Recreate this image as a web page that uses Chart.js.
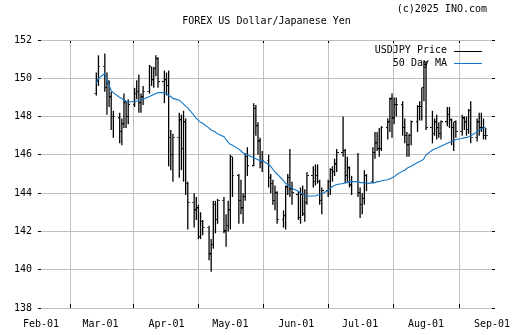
<!DOCTYPE html>
<html>
<head>
<meta charset="utf-8">
<script src="https://cdn.jsdelivr.net/npm/chart.js@4.4.1/dist/chart.umd.min.js"></script>
<style>
  html, body { margin: 0; padding: 0; background: #fff; }
</style>
</head>
<body>
<canvas id="chart" width="512" height="335"></canvas>
<script>
// trading days (2025, MM-DD)
const dates = [
  '02-27','02-28','03-03','03-04','03-05','03-06','03-07','03-10','03-11','03-12','03-13','03-14','03-17','03-18','03-19','03-20','03-21','03-24','03-25','03-26','03-27','03-28','03-31',
  '04-01','04-02','04-03','04-04','04-07','04-08','04-09','04-10','04-11','04-14','04-15','04-16','04-17','04-18','04-21','04-22','04-23','04-24','04-25','04-28','04-29','04-30',
  '05-01','05-02','05-05','05-06','05-07','05-08','05-09','05-12','05-13','05-14','05-15','05-16','05-19','05-20','05-21','05-22','05-23','05-26','05-27','05-28','05-29','05-30',
  '06-02','06-03','06-04','06-05','06-06','06-09','06-10','06-11','06-12','06-13','06-16','06-17','06-18','06-19','06-20','06-23','06-24','06-25','06-26','06-27','06-30',
  '07-01','07-02','07-03','07-04','07-07','07-08','07-09','07-10','07-11','07-14','07-15','07-16','07-17','07-18','07-21','07-22','07-23','07-24','07-25','07-28','07-29','07-30','07-31',
  '08-01','08-04','08-05','08-06','08-07','08-08','08-11','08-12','08-13','08-14','08-15','08-18','08-19','08-20','08-21','08-22','08-25','08-26','08-27','08-28','08-29'
];

const open = [
  149.2,149.8,150.6,149.5,149.7,149.0,148.0,147.9,147.2,147.6,148.7,148.0,148.6,149.2,149.3,148.7,149.0,149.3,150.6,149.9,150.5,151.0,149.8,
  149.9,149.6,146.9,146.0,146.9,147.8,146.3,147.7,144.5,143.5,143.1,143.2,141.7,142.5,142.2,140.8,141.3,143.4,142.6,143.6,142.0,142.3,
  143.1,145.9,144.9,143.6,143.2,143.8,145.9,145.4,148.4,147.5,146.7,145.6,145.7,144.8,144.5,143.6,144.0,142.6,142.8,144.3,144.8,144.2,
  143.9,142.7,143.9,142.9,143.5,144.9,144.6,144.9,144.6,143.6,144.1,144.6,145.2,145.1,145.5,146.1,146.2,144.9,145.3,144.4,144.6,
  144.0,143.4,143.7,144.9,144.6,146.1,146.6,146.3,146.3,147.4,147.7,148.9,147.9,148.6,148.6,147.4,147.0,146.5,147.0,147.7,148.5,148.5,149.5,
  150.7,147.4,147.1,147.7,147.4,147.1,147.7,148.1,147.8,147.4,147.7,147.2,147.9,147.7,147.3,148.3,146.9,147.7,147.4,147.4,147.0
];
const high = [
  150.3,151.2,151.3,150.3,149.9,149.3,148.3,148.2,147.9,149.2,148.8,148.9,149.5,149.9,150.2,149.2,149.6,150.7,150.6,150.6,151.2,151.1,150.4,
  150.3,150.4,147.3,147.1,148.2,148.1,148.3,147.9,144.6,144.0,143.8,143.4,143.0,142.6,142.3,141.6,143.6,143.6,143.7,143.8,142.9,143.6,
  146.0,145.9,145.0,144.7,144.0,146.1,146.4,148.7,148.6,147.7,146.9,146.2,146.0,145.0,144.7,144.4,144.1,143.1,144.4,145.0,146.3,144.6,
  144.1,144.3,144.4,144.2,145.1,145.4,145.5,145.5,144.7,144.3,144.7,145.3,145.4,145.8,146.3,148.0,146.3,145.9,145.4,144.9,146.1,
  144.3,144.0,145.2,145.0,146.4,147.2,147.2,147.4,147.5,147.9,149.0,149.2,149.0,149.0,148.8,147.9,147.2,147.1,147.8,148.6,148.8,149.5,150.9,
  150.9,148.3,147.9,148.1,147.7,147.8,148.5,148.5,147.9,147.7,147.8,148.1,148.0,148.0,148.4,148.8,147.9,148.2,148.2,147.9,147.4
];
const low = [
  149.1,149.6,149.3,148.1,148.5,147.3,146.9,146.6,146.5,147.4,147.4,147.6,148.5,148.9,148.2,148.2,148.6,149.2,149.6,149.5,150.1,149.5,148.7,
  149.1,145.4,145.2,144.6,144.8,145.2,144.6,143.9,142.1,142.2,142.6,141.6,141.6,141.8,140.5,139.9,141.1,141.9,142.4,141.9,141.2,142.0,
  142.1,143.8,142.4,142.9,142.4,143.6,144.9,145.4,147.0,146.0,145.3,145.1,144.3,144.0,143.4,143.1,142.4,142.2,142.1,143.9,143.8,143.4,
  142.6,142.4,142.8,142.5,143.4,144.3,144.4,144.5,143.4,142.9,143.8,143.9,144.6,144.9,145.1,145.9,144.5,144.6,144.3,143.9,143.8,
  142.7,142.9,143.4,144.1,144.5,145.8,146.2,145.9,146.2,146.8,147.2,146.9,147.6,148.0,147.0,146.6,145.9,145.9,146.5,147.2,147.8,147.8,148.8,
  147.3,146.6,147.0,146.8,146.9,146.8,147.5,147.4,146.5,146.2,146.9,147.0,147.3,147.0,147.1,146.6,146.7,147.0,147.2,146.8,146.8
];
const close = [
  149.8,150.6,149.5,149.8,149.0,148.0,148.0,147.2,147.6,148.8,148.0,148.6,149.2,149.3,148.7,149.0,149.3,150.6,149.9,150.5,151.0,149.8,149.9,
  149.6,146.9,146.0,146.9,147.8,146.3,147.7,144.5,143.5,143.1,143.2,141.7,142.5,142.2,140.8,141.3,143.4,142.6,143.6,142.0,142.3,143.1,
  145.9,144.9,143.6,143.2,143.8,145.9,145.4,148.4,147.5,146.7,145.6,145.7,144.8,144.5,143.6,144.0,142.6,142.8,144.3,144.8,144.2,144.0,
  142.7,143.9,142.9,143.5,144.9,144.6,144.9,144.6,143.6,144.1,144.6,145.2,145.1,145.5,146.1,146.2,144.9,145.3,144.4,144.6,144.0,
  143.4,143.7,144.9,144.5,146.1,146.6,146.3,146.3,147.4,147.7,148.9,147.9,148.6,148.6,147.4,147.0,146.5,147.0,147.7,148.5,148.5,149.5,150.7,
  147.4,147.1,147.7,147.4,147.1,147.7,148.1,147.8,147.4,147.7,147.2,147.9,147.7,147.3,148.3,146.9,147.7,147.4,147.4,147.0,147.0
];
const ma50 = [
  149.75,150.0,150.25,149.9,149.65,149.35,149.25,149.0,148.95,148.85,148.8,148.75,148.8,148.8,148.85,148.85,148.9,149.05,149.1,149.15,149.2,149.25,149.25,
  149.2,149.1,149.05,148.95,148.85,148.75,148.65,148.55,148.45,148.05,147.9,147.8,147.7,147.65,147.4,147.3,147.25,147.2,147.1,146.95,146.8,146.65,
  146.55,146.5,146.3,146.2,146.1,146.05,146.0,145.85,145.8,145.75,145.7,145.7,145.5,145.4,145.25,145.1,145.0,144.65,144.5,144.45,144.35,144.25,
  144.1,144.0,143.95,143.9,143.85,143.85,143.85,143.9,143.9,143.95,144.15,144.25,144.35,144.4,144.45,144.5,144.55,144.55,144.6,144.6,144.6,
  144.55,144.55,144.55,144.5,144.55,144.55,144.6,144.6,144.65,144.7,144.75,144.8,144.85,144.95,145.15,145.2,145.3,145.35,145.4,145.6,145.65,145.7,145.8,
  146.0,146.25,146.3,146.35,146.4,146.45,146.6,146.65,146.7,146.75,146.8,146.85,146.9,146.9,146.95,147.0,147.2,147.3,147.35,147.4,147.45
];

const monthTicks = ['02-01','03-01','04-01','05-01','06-01','07-01','08-01','09-01'];
const monthLabels = ['Feb-01','Mar-01','Apr-01','May-01','Jun-01','Jul-01','Aug-01','Sep-01'];

const titleText = 'FOREX US Dollar/Japanese Yen';
const copyText = '(c)2025 INO.com';

const YEAR = 2025;
const FONT = { family: 'DejaVu Sans Mono', size: 10 };
const GRID = '#c0c0c0';
const MA_BLUE = '#1476c4';

// days since Feb-01
function dayOf(md) {
  const [m, d] = md.split('-').map(Number);
  return (Date.UTC(YEAR, m - 1, d) - Date.UTC(YEAR, 1, 1)) / 864e5;
}

// small open / close tick marks used as point styles
function tickMark(side) {
  const c = document.createElement('canvas');
  c.width = 4; c.height = 2;
  const g = c.getContext('2d');
  g.fillStyle = '#000';
  if (side === 'left') g.fillRect(0, 0, 1.5, 1);
  else g.fillRect(2.5, 0, 1.5, 1);
  return c;
}

const xs = dates.map(dayOf);
const monthVals = monthTicks.map(dayOf);
const setMonthTicks = s => { s.ticks = monthVals.map(v => ({ value: v })); };

const headerText = {
  id: 'headerText',
  afterDraw(chart) {
    const { ctx, chartArea: a } = chart;
    ctx.save();
    ctx.font = FONT.size + 'px "' + FONT.family + '"';
    ctx.fillStyle = '#000';
    ctx.textBaseline = 'middle';
    ctx.textAlign = 'right';
    ctx.fillText(copyText, a.right - 5, 9);
    ctx.textAlign = 'center';
    ctx.fillText(titleText, (a.left + a.right) / 2, 21.5);

    // legend, text left of the sample line
    const items = chart.data.datasets.filter(d => d.legendPos !== undefined)
      .sort((p, q) => p.legendPos - q.legendPos);
    items.forEach((d, i) => {
      const y = a.top + 10.5 + i * 12.5;
      ctx.textAlign = 'right';
      ctx.fillStyle = '#000';
      ctx.fillText(d.label, a.right - 45, y);
      ctx.strokeStyle = d.legendColor;
      ctx.lineWidth = 1;
      ctx.beginPath();
      ctx.moveTo(a.right - 38, Math.round(y) + 0.5);
      ctx.lineTo(a.right - 10, Math.round(y) + 0.5);
      ctx.stroke();
    });
    ctx.restore();
  }
};

new Chart(document.getElementById('chart'), {
  type: 'bar',
  data: {
    datasets: [
      {
        type: 'line',
        label: '50 Day MA',
        legendPos: 1,
        legendColor: MA_BLUE,
        data: xs.map((x, i) => ({ x, y: ma50[i] })),
        borderColor: MA_BLUE,
        borderWidth: 1.1,
        pointRadius: 0,
        tension: 0,
        order: 0
      },
      {
        type: 'line',
        label: 'open',
        data: xs.map((x, i) => ({ x, y: open[i] })),
        showLine: false,
        pointStyle: tickMark('left'),
        order: 1
      },
      {
        type: 'line',
        label: 'close',
        data: xs.map((x, i) => ({ x, y: close[i] })),
        showLine: false,
        pointStyle: tickMark('right'),
        order: 1
      },
      {
        label: 'USDJPY Price',
        legendPos: 0,
        legendColor: '#000',
        data: xs.map((x, i) => ({ x, y: [low[i], high[i]] })),
        backgroundColor: '#000',
        borderWidth: 0,
        barThickness: 1.3,
        inflateAmount: 0,
        order: 2
      }
    ]
  },
  options: {
    responsive: false,
    animation: false,
    devicePixelRatio: 1,
    events: [],
    layout: { padding: { left: 0, right: 17, top: 40, bottom: 0 } },
    plugins: {
      legend: { display: false },
      tooltip: { enabled: false }
    },
    scales: {
      x: {
        type: 'linear',
        position: 'bottom',
        min: 0,
        max: dayOf('09-01'),
        offset: false,
        afterBuildTicks: setMonthTicks,
        afterFit: s => { s.height = 27; s.paddingLeft = 0; s.paddingRight = 0; },
        grid: { color: GRID, tickColor: '#000', tickLength: -4 },
        border: { display: false },
        ticks: {
          font: FONT, color: '#000', padding: 14, maxRotation: 0, autoSkip: false,
          callback: (v, i) => monthLabels[i]
        }
      },
      xTop: {
        type: 'linear',
        position: 'top',
        min: 0,
        max: dayOf('09-01'),
        offset: false,
        afterBuildTicks: setMonthTicks,
        afterFit: s => { s.height = 0; s.paddingLeft = 0; s.paddingRight = 0; },
        grid: { drawOnChartArea: false, tickColor: '#000', tickLength: -3 },
        border: { display: false },
        ticks: { display: false }
      },
      y: {
        position: 'left',
        min: 138,
        max: 152,
        afterFit: s => { s.width = 41; },
        grid: { color: GRID, tickColor: '#000', tickLength: 3 },
        border: { display: false },
        ticks: { stepSize: 2, font: FONT, color: '#000', padding: 6 }
      },
      yRight: {
        position: 'right',
        min: 138,
        max: 152,
        afterFit: s => { s.width = 3; },
        grid: { drawOnChartArea: false, tickColor: '#000', tickLength: 3 },
        border: { display: false },
        ticks: { stepSize: 2, display: false }
      }
    }
  },
  plugins: [headerText]
});
</script>
</body>
</html>
